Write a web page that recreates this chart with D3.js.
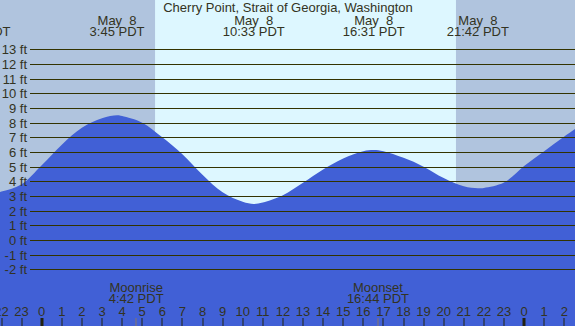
<!DOCTYPE html>
<html>
<head>
<meta charset="utf-8">
<script src="https://cdn.jsdelivr.net/npm/d3@7"></script>
<style>
  body { margin: 0; overflow: hidden; }
  text { font-family: "Liberation Sans", Arial, sans-serif; font-size: 13px; fill: #333322; }
</style>
</head>
<body>
<script>
// chart size (in pixels)
var width = 575,
    height = 326;

// tide heights (hours from midnight May 8, feet)
var tideHours = [-3, -2, -1, 0, 1, 2, 3, 3.75, 4, 5, 6, 7, 8, 9, 10, 10.55, 11, 12, 13, 14, 15, 16, 16.52, 17, 18, 19, 20, 21, 21.7, 22, 23, 24, 25, 26, 27];
var tideFeet  = [3.15, 3.3, 3.8, 5.1, 6.5, 7.65, 8.3, 8.5, 8.45, 8.0, 7.0, 5.85, 4.45, 3.25, 2.6, 2.45, 2.55, 3.05, 3.9, 4.8, 5.55, 6.05, 6.13, 6.05, 5.6, 5.0, 4.22, 3.66, 3.52, 3.55, 3.92, 5.05, 6.05, 7.05, 8.0];

// high / low labels at the top
var eventHours = [-3.1, 3.75, 10.55, 16.52, 21.7];
var eventDates = ["May  7", "May  8", "May  8", "May  8", "May  8"];
var eventTimes = ["21:00 PDT", "3:45 PDT", "10:33 PDT", "16:31 PDT", "21:42 PDT"];

// sunrise / sunset (hours)
var sunrise = 5.64,
    sunset = 20.61;

// moon
var moonHours = [4.7, 16.73];
var moonNames = ["Moonrise", "Moonset"];
var moonTimes = ["4:42 PDT", "16:44 PDT"];

// axis ticks
var feetTicks = d3.range(-2, 14);
var hourTicks = d3.range(-2, 27);

var x = d3.scaleLinear()
    .domain([0, 24])
    .range([41.7, 524.1]);

var y = d3.scaleLinear()
    .domain([-2, 13])
    .range([269.3, 49.3]);

var svg = d3.select("body").append("svg")
    .attr("width", width)
    .attr("height", height);

// day background, then night on both sides
svg.append("rect")
    .attr("width", width)
    .attr("height", height)
    .attr("fill", "#ddf7ff");

svg.append("rect")
    .attr("x", 0)
    .attr("width", x(sunrise))
    .attr("height", height)
    .attr("fill", "#b0c4de");

svg.append("rect")
    .attr("x", x(sunset))
    .attr("width", width - x(sunset))
    .attr("height", height)
    .attr("fill", "#b0c4de");

// water
var area = d3.area()
    .x(function(d, i) { return x(tideHours[i]); })
    .y0(height)
    .y1(function(d) { return y(d); })
    .curve(d3.curveCatmullRom.alpha(0.5));

svg.append("path")
    .datum(tideFeet)
    .attr("d", area)
    .attr("fill", "#4160d6");

// height lines and labels
svg.selectAll(".hline")
    .data(feetTicks)
    .enter()
    .append("line")
    .attr("x1", 30)
    .attr("x2", width)
    .attr("y1", function(d) { return Math.round(y(d)) + 0.5; })
    .attr("y2", function(d) { return Math.round(y(d)) + 0.5; })
    .attr("stroke", "#333300")
    .attr("stroke-width", 1);

svg.selectAll(".flabel")
    .data(feetTicks)
    .enter()
    .append("text")
    .attr("x", 27)
    .attr("y", function(d) { return Math.round(y(d)) + 5; })
    .attr("text-anchor", "end")
    .text(function(d) { return d + " ft"; });

// title
svg.append("text")
    .attr("x", 288)
    .attr("y", 12)
    .attr("text-anchor", "middle")
    .text("Cherry Point, Strait of Georgia, Washington");

// high / low labels
svg.selectAll(".edate")
    .data(eventHours)
    .enter()
    .append("text")
    .attr("x", function(d) { return x(d); })
    .attr("y", 25)
    .attr("text-anchor", "middle")
    .style("white-space", "pre")
    .text(function(d, i) { return eventDates[i]; });

svg.selectAll(".etime")
    .data(eventHours)
    .enter()
    .append("text")
    .attr("x", function(d) { return x(d); })
    .attr("y", 36)
    .attr("text-anchor", "middle")
    .text(function(d, i) { return eventTimes[i]; });

// moon labels
svg.selectAll(".mname")
    .data(moonHours)
    .enter()
    .append("text")
    .attr("x", function(d) { return x(d); })
    .attr("y", 292)
    .attr("text-anchor", "middle")
    .text(function(d, i) { return moonNames[i]; });

svg.selectAll(".mtime")
    .data(moonHours)
    .enter()
    .append("text")
    .attr("x", function(d) { return x(d); })
    .attr("y", 303)
    .attr("text-anchor", "middle")
    .text(function(d, i) { return moonTimes[i]; });

svg.selectAll(".mtick")
    .data(moonHours)
    .enter()
    .append("rect")
    .attr("x", function(d) { return Math.round(x(d)) - 0.5; })
    .attr("y", 318)
    .attr("width", 1)
    .attr("height", 8)
    .attr("fill", "#887766");

// hour ticks along the bottom
svg.selectAll(".htick")
    .data(hourTicks)
    .enter()
    .append("rect")
    .attr("x", function(d) { return d % 24 === 0 ? Math.round(x(d)) - 1.5 : Math.round(x(d)) - 0.5; })
    .attr("y", 318)
    .attr("width", function(d) { return d % 24 === 0 ? 3 : 1; })
    .attr("height", 8)
    .attr("fill", "#222211");

svg.selectAll(".hlabel")
    .data(hourTicks)
    .enter()
    .append("text")
    .attr("x", function(d) { return x(d); })
    .attr("y", 316)
    .attr("text-anchor", "middle")
    .text(function(d) { return (d + 24) % 24; });
</script>
</body>
</html>
